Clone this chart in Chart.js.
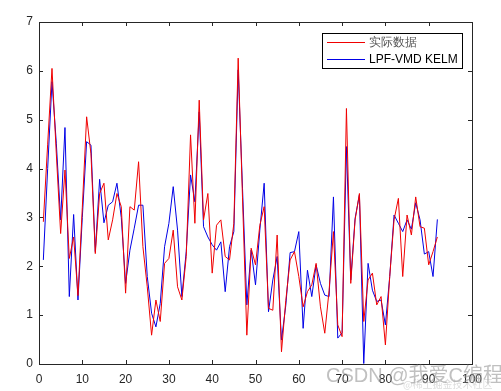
<!DOCTYPE html>
<html>
<head>
<meta charset="utf-8">
<script src="https://cdn.jsdelivr.net/npm/chart.js@4"></script>
<style>
  body { margin: 0; background: #fff; }
  #wrap { width: 501px; height: 391px; }
</style>
</head>
<body>
<div id="wrap"><canvas id="lineChart" width="501" height="391"></canvas></div>
<script>
// sample index (x axis)
const samples = Array.from({ length: 92 }, (_, i) => i + 1);

// 实际数据 (red)
const actual = [
    2.91, 4.5, 6.05, 4.3, 2.67, 3.97, 2.16, 2.6, 1.4, 3.2,
    5.06, 4.3, 2.26, 3.49, 3.7, 2.54, 2.95, 3.49, 3.22, 1.45,
    3.22, 3.15, 4.14, 2.4, 1.58, 0.59, 1.31, 0.87, 2.06, 2.16,
    2.74, 1.58, 1.31, 2.2, 4.69, 2.88, 5.4, 2.95, 3.49, 1.86,
    2.84, 2.95, 2.2, 2.13, 2.88, 6.26, 3.4, 0.59, 2.37, 2.03,
    2.84, 3.22, 1.14, 1.1, 2.64, 0.25, 1.3, 2.13, 2.3, 1.79,
    1.17, 1.48, 1.62, 2.06, 1.17, 0.63, 1.51, 2.71, 0.8, 0.56,
    5.23, 1.65, 2.95, 3.49, 0.87, 1.72, 1.86, 1.21, 1.38, 0.39,
    1.79, 2.95, 3.39, 1.79, 3.05, 2.64, 3.42, 2.81, 2.78, 2.03,
    2.3, 2.6
];

// LPF-VMD KELM prediction (blue)
const predicted = [
    2.13, 4.0, 5.78, 4.52, 2.95, 4.84, 1.38, 3.06, 1.31, 3.0,
    4.55, 4.48, 2.3, 3.78, 2.89, 3.25, 3.32, 3.7, 3.0, 1.65,
    2.33, 2.78, 3.25, 3.25, 1.79, 1.04, 0.76, 1.24, 2.4, 2.88,
    3.63, 2.74, 1.38, 2.3, 3.87, 3.32, 5.16, 2.81, 2.6, 2.44,
    2.33, 2.5, 1.48, 2.4, 2.71, 6.02, 3.6, 1.21, 2.33, 1.62,
    2.74, 3.7, 1.07, 1.72, 2.2, 0.49, 1.2, 2.28, 2.3, 2.71,
    0.73, 1.92, 1.38, 2.03, 1.65, 1.41, 1.38, 3.42, 0.53, 0.64,
    4.45, 1.72, 2.98, 3.46, 0.01, 2.06, 1.51, 1.28, 1.31, 0.8,
    1.79, 3.05, 2.88, 2.71, 2.95, 2.76, 3.3, 2.95, 2.25, 2.3,
    1.79, 2.96
];

const xTicks = [0, 10, 20, 30, 40, 50, 60, 70, 80, 90, 100];
const yTicks = [0, 1, 2, 3, 4, 5, 6, 7];
const seriesNames = ['实际数据', 'LPF-VMD KELM'];

const axisColor = '#262626';
const tickFont = { family: 'Liberation Sans, Arial, sans-serif', size: 12 };

// box around the axes with inward ticks, MATLAB style
const boxPlugin = {
    id: 'boxPlugin',
    afterDatasetsDraw(chart) {
        const { ctx, chartArea: a, scales } = chart;
        ctx.save();
        ctx.strokeStyle = axisColor;
        ctx.lineWidth = 1;
        ctx.strokeRect(Math.round(a.left) + 0.5, Math.round(a.top) + 0.5,
            Math.round(a.right - a.left), Math.round(a.bottom - a.top));
        const len = 4;
        ctx.beginPath();
        xTicks.forEach(v => {
            const px = Math.round(scales.x.getPixelForValue(v)) + 0.5;
            ctx.moveTo(px, a.bottom); ctx.lineTo(px, a.bottom - len);
            ctx.moveTo(px, a.top); ctx.lineTo(px, a.top + len);
        });
        yTicks.forEach(v => {
            const py = Math.round(scales.y.getPixelForValue(v)) + 0.5;
            ctx.moveTo(a.left, py); ctx.lineTo(a.left + len, py);
            ctx.moveTo(a.right, py); ctx.lineTo(a.right - len, py);
        });
        ctx.stroke();
        ctx.restore();
    },
    afterDraw(chart) {
        const { ctx } = chart;
        ctx.save();
        // legend box
        const lx = 322, ly = 33, lw = 140, lh = 35;
        ctx.fillStyle = '#fff';
        ctx.fillRect(lx, ly, lw, lh);
        ctx.strokeStyle = '#000';
        ctx.lineWidth = 1;
        ctx.strokeRect(lx + 0.5, ly + 0.5, lw, lh);
        const colors = ['#f00000', '#0000e6'];
        const rows = [42.5, 59.5];
        ctx.font = '12px Liberation Sans, Arial, sans-serif';
        ctx.textBaseline = 'middle';
        rows.forEach((y, i) => {
            ctx.strokeStyle = colors[i];
            ctx.beginPath();
            ctx.moveTo(327, y); ctx.lineTo(365, y);
            ctx.stroke();
            ctx.fillStyle = i === 0 ? '#555' : '#000';
            ctx.fillText(seriesNames[i], 369, y + 0.5);
        });
        // watermark
        ctx.fillStyle = 'rgba(150,150,150,0.6)';
        ctx.font = '20px Liberation Sans, "Noto Sans CJK SC", sans-serif';
        ctx.textBaseline = 'alphabetic';
        ctx.fillText('CSDN @我爱C编程', 326, 382);
        ctx.fillStyle = 'rgba(170,170,170,0.4)';
        ctx.font = '10px "Noto Sans CJK SC", sans-serif';
        ctx.fillText('@稀土掘金技术社区', 403, 388);
        ctx.restore();
    }
};

const ctx = document.getElementById('lineChart').getContext('2d');
new Chart(ctx, {
    type: 'line',
    data: {
        datasets: [
            {
                label: seriesNames[0],
                data: samples.map((x, i) => ({ x, y: actual[i] })),
                borderColor: '#f00000',
                borderWidth: 1,
                pointRadius: 0,
                tension: 0
            },
            {
                label: seriesNames[1],
                data: samples.map((x, i) => ({ x, y: predicted[i] })),
                borderColor: '#0000e6',
                borderWidth: 1,
                pointRadius: 0,
                tension: 0
            }
        ]
    },
    options: {
        responsive: false,
        animation: false,
        layout: { padding: { top: 22, right: 29, left: 0, bottom: 0 } },
        plugins: {
            legend: { display: false },
            tooltip: { enabled: false }
        },
        scales: {
            x: {
                type: 'linear',
                min: 0,
                max: 100,
                afterBuildTicks: s => { s.ticks = xTicks.map(v => ({ value: v })); },
                afterFit: s => { s.height = 27; },
                grid: { display: false, drawTicks: false },
                border: { display: false },
                ticks: { color: axisColor, font: tickFont, padding: 8, maxRotation: 0 }
            },
            y: {
                min: 0,
                max: 7,
                afterBuildTicks: s => { s.ticks = yTicks.map(v => ({ value: v })); },
                afterFit: s => { s.width = 39; },
                grid: { display: false, drawTicks: false },
                border: { display: false },
                ticks: { color: axisColor, font: tickFont, padding: 6 }
            }
        }
    },
    plugins: [boxPlugin]
});
</script>
</body>
</html>
